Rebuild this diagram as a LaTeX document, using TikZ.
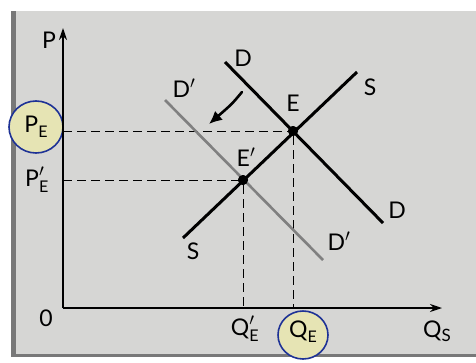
\documentclass[tikz,border=0pt]{standalone}
\usepackage{fontspec}
\usepackage{amsmath}
\setmainfont{Lato}
\usetikzlibrary{arrows.meta}
\definecolor{paper}{RGB}{214,214,212}
\definecolor{edge}{RGB}{120,120,120}
\definecolor{hilite}{RGB}{230,228,180}
\definecolor{pen}{RGB}{30,50,150}
\begin{document}
\begin{tikzpicture}[x=1pt,y=-1pt,
  lbl/.style={font=\fontsize{23}{23}\selectfont, inner sep=0pt},
  curveline/.style={line width=3pt},
  shiftline/.style={line width=2.6pt, draw=black!50},
  guide/.style={dash pattern=on 9pt off 5pt, line width=1pt},
  axisline/.style={line width=1.4pt, -{Stealth[length=12pt,width=8pt]}},
  eqdot/.style={circle, fill=black, inner sep=0pt, minimum size=10pt},
  ring/.style={draw=pen, line width=1.6pt, fill=hilite}
]
\useasboundingbox (0,0) rectangle (476,362);
\fill[white] (0,0) rectangle (476,362);
\fill[paper] (11,11) rectangle (476,356);
\fill[edge] (11,11) rectangle (16,356);
\fill[edge] (11,354) rectangle (476,357);

% highlight rings
\filldraw[ring] (36,127) ellipse [x radius=27, y radius=26];
\filldraw[ring] (303,335) ellipse [x radius=25, y radius=24];

% axes
\coordinate (O) at (63,308);
\coordinate (Ptop) at (63,28);
\coordinate (Qend) at (442,308);
\draw[axisline] (O) -- (Ptop);
\draw[axisline] (O) -- (Qend);

% equilibrium points
\node[eqdot] (E) at (293,131) {};
\node[eqdot] (E2) at (243,180) {};

% guide lines
\coordinate (PE) at (63,131);
\coordinate (PE2) at (63,180);
\coordinate (QE) at (293,308);
\coordinate (QE2) at (243,308);
\draw[guide] (PE) -- (E);
\draw[guide] (PE2) -- (E2);
\draw[guide] (E) -- (QE);
\draw[guide] (E2) -- (QE2);

% curves
\coordinate (Dtop) at (225,62);
\coordinate (Dbot) at (383,223);
\coordinate (Stop) at (357,72);
\coordinate (Sbot) at (183,238);
\coordinate (D2top) at (165,100);
\coordinate (D2bot) at (323,260);
\draw[shiftline] (D2top) -- (D2bot);
\draw[curveline] (Dtop) -- (Dbot);
\draw[curveline] (Stop) -- (Sbot);
\node[eqdot] at (E) {};
\node[eqdot] at (E2) {};

% hand-drawn arrow
\coordinate (hstart) at (242,92);
\coordinate (hend) at (209,124);
\draw[line width=2.6pt, line cap=round, -{Latex[length=13pt,width=12pt]}] (hstart) .. controls (232,104) .. (hend);

% labels
\node[lbl] (lP) at (49,40) {P};
\node[lbl] (lPE) at (36,127) {P\raisebox{-0.45ex}{\fontsize{16}{16}\selectfont E}};
\node[lbl] (lPE2) at (37,180) {$\text{P}'_{\text{E}}$};
\node[lbl] (l0) at (46,318) {0};
\node[lbl] (lQE2) at (245,329) {$\text{Q}'_{\text{E}}$};
\node[lbl] (lQE) at (303,332) {Q\raisebox{-0.45ex}{\fontsize{16}{16}\selectfont E}};
\node[lbl] (lQS) at (437,331) {Q\raisebox{-0.35ex}{\fontsize{17}{17}\selectfont S}};
\node[lbl] (lDt) at (243,58) {D};
\node[lbl] (lSt) at (370,87) {S};
\node[lbl] (lE) at (293,103) {E};
\node[lbl] (lE2) at (246,157) {E$'$};
\node[lbl] (lDb) at (397,210) {D};
\node[lbl] (lD2t) at (184,88) {D$'$};
\node[lbl] (lD2b) at (339,241) {D$'$};
\node[lbl] (lSb) at (193,251) {S};
\end{tikzpicture}
\end{document}
